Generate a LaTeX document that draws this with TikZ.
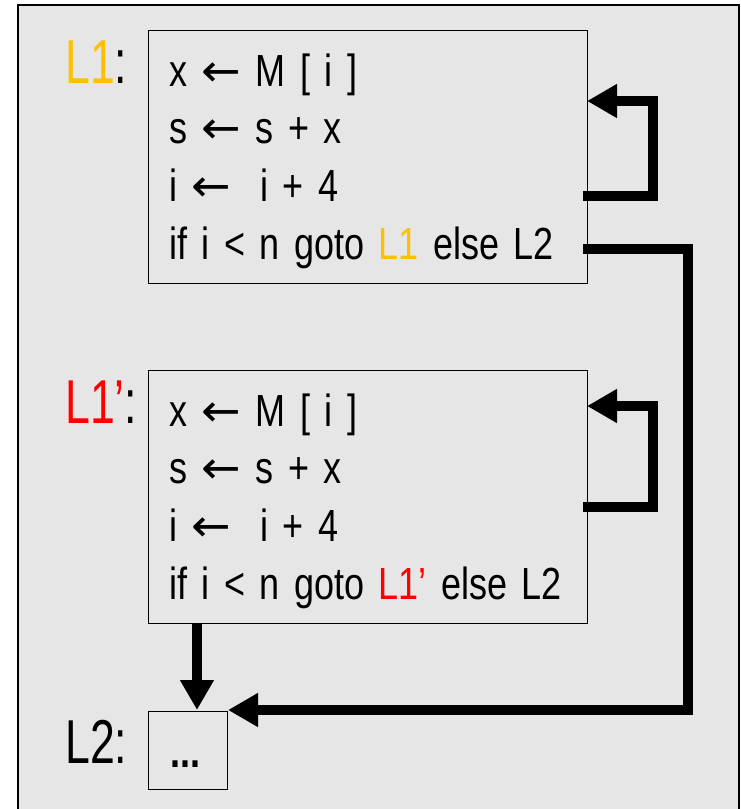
\documentclass[tikz,border=0pt]{standalone}
\usepackage{fontspec}
\setmainfont{Liberation Sans}[FakeStretch=0.8, WordSpace=1.45]
\newfontfamily\labelfont{Liberation Sans}[FakeStretch=0.72]
\newfontfamily\arrowfont{DejaVu Sans}[FakeStretch=1.05]
\newcommand{\getsarrow}{{\arrowfont ←}}
\usetikzlibrary{arrows.meta}
\definecolor{panel}{HTML}{E6E6E6}
\definecolor{gold}{HTML}{FFC000}
\definecolor{hot}{HTML}{FF0000}
\begin{document}
\begin{tikzpicture}[x=1pt, y=-1pt,
  codebox/.style={draw=black, line width=1.3pt, rectangle, inner sep=0pt, anchor=north west},
  code/.style={anchor=base west, inner sep=0pt, font=\fontsize{45}{45}\selectfont},
  lbl/.style={anchor=base west, inner sep=0pt, font=\labelfont\fontsize{62}{62}\selectfont},
  flow/.style={line width=9.5pt, line join=miter, -{Triangle[length=30pt, width=32pt]}}]
  \useasboundingbox (0,0) rectangle (740,809);
  % panel
  \draw[fill=panel, line width=2pt] (18,5) rectangle (739,830);

  % first loop body
  \node[codebox, minimum width=439pt, minimum height=253pt] (body1) at (148,30) {};
  \node[lbl] (lab1) at (65,83) {\textcolor{gold}{L1}:};
  \node[code] (a1) at (169,86) {x \getsarrow{} M [ i ]};
  \node[code] (a2) at (169,143) {s \getsarrow{} s + x};
  \node[code] (a3) at (169,201) {i \getsarrow\ \ i + 4};
  \node[code] (a4) at (169,259) {if i < n goto \textcolor{gold}{L1} else L2};

  % second loop body
  \node[codebox, minimum width=439pt, minimum height=253pt] (body2) at (148,370) {};
  \node[lbl] (lab2) at (65,423) {\textcolor{hot}{L1’}:};
  \node[code] (b1) at (169,426) {x \getsarrow{} M [ i ]};
  \node[code] (b2) at (169,483) {s \getsarrow{} s + x};
  \node[code] (b3) at (169,541) {i \getsarrow\ \ i + 4};
  \node[code] (b4) at (169,599) {if i < n goto \textcolor{hot}{L1’} else L2};

  % exit block
  \node[codebox, minimum width=79pt, minimum height=78pt] (exit) at (148,711) {};
  \node[lbl] (lab3) at (65,763) {L2:};
  \node[code, font=\fontsize{45}{45}\selectfont\bfseries] (dots) at (170,767) {...};

  % connector end points
  \coordinate (out1) at (583,196);
  \coordinate (in1) at (587,101);
  \coordinate (out2) at (583,507);
  \coordinate (in2) at (587,406);
  \coordinate (leave) at (583,249);
  \coordinate (enterR) at (228,710);
  \coordinate (fallS) at (197,623);
  \coordinate (enterT) at (197,710);

  \draw[flow] (out1) -| (653,101) -- (in1);
  \draw[flow] (out2) -| (653,406) -- (in2);
  \draw[flow] (leave) -| (688,710) -- (enterR);
  \draw[flow] (fallS) -- (enterT);
\end{tikzpicture}
\end{document}
